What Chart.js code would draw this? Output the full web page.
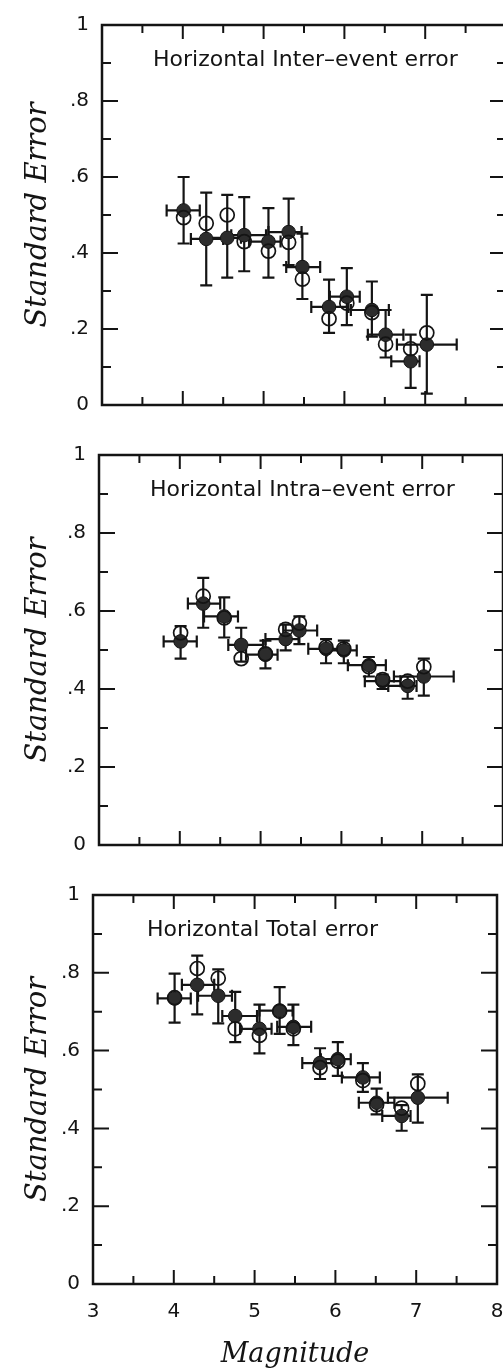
<!DOCTYPE html>
<html>
<head>
<meta charset="utf-8">
<script src="https://cdn.jsdelivr.net/npm/chart.js@4.4.1/dist/chart.umd.min.js"></script>
<style>
  html, body { margin: 0; padding: 0; background: #fff; overflow: hidden; width: 503px; height: 1370px; }
  canvas { position: absolute; left: 0; }
</style>
</head>
<body>
<canvas id="inter" width="520" height="430" style="top:0px"></canvas>
<canvas id="intra" width="520" height="440" style="top:430px"></canvas>
<canvas id="total" width="520" height="500" style="top:870px"></canvas>
<script>
// magnitude bins (shared by the three panels)
const magnitude = [4.01, 4.29, 4.55, 4.76, 5.06, 5.31, 5.48, 5.81, 6.03, 6.34, 6.51, 6.82, 7.02];
const magLow    = [3.80, 4.10, 4.30, 4.60, 4.82, 5.06, 5.28, 5.59, 5.82, 6.08, 6.29, 6.58, 6.65];
const magHigh   = [4.21, 4.50, 4.72, 5.03, 5.21, 5.47, 5.70, 6.05, 6.19, 6.55, 6.73, 6.93, 7.39];

// inter-event error
const interFilled = [0.512, 0.437, 0.44, 0.447, 0.43, 0.455, 0.363, 0.258, 0.285, 0.25, 0.185, 0.115, 0.159];
const interLow    = [0.425, 0.315, 0.335, 0.352, 0.335, 0.368, 0.279, 0.19, 0.21, 0.18, 0.125, 0.045, 0.03];
const interHigh   = [0.60, 0.559, 0.553, 0.547, 0.518, 0.543, 0.451, 0.33, 0.36, 0.325, 0.25, 0.185, 0.29];
const interOpen   = [0.493, 0.478, 0.50, 0.43, 0.405, 0.428, 0.331, 0.227, 0.268, 0.243, 0.16, 0.148, 0.19];

// intra-event error
const intraFilled = [0.522, 0.619, 0.586, 0.513, 0.488, 0.528, 0.55, 0.503, 0.499, 0.461, 0.42, 0.408, 0.432];
const intraLow    = [0.478, 0.557, 0.532, 0.47, 0.453, 0.499, 0.515, 0.466, 0.466, 0.432, 0.40, 0.375, 0.383];
const intraHigh   = [0.561, 0.685, 0.635, 0.557, 0.524, 0.565, 0.586, 0.528, 0.524, 0.482, 0.437, 0.432, 0.478];
const intraOpen   = [0.544, 0.638, 0.582, 0.478, 0.49, 0.553, 0.569, 0.507, 0.503, 0.457, 0.424, 0.42, 0.457];

// total error
const totalFilled = [0.734, 0.769, 0.741, 0.689, 0.656, 0.703, 0.661, 0.568, 0.578, 0.531, 0.466, 0.432, 0.479];
const totalLow    = [0.672, 0.693, 0.67, 0.622, 0.593, 0.643, 0.614, 0.527, 0.535, 0.494, 0.436, 0.394, 0.415];
const totalHigh   = [0.798, 0.844, 0.809, 0.751, 0.718, 0.763, 0.718, 0.606, 0.622, 0.568, 0.502, 0.46, 0.539];
const totalOpen   = [0.736, 0.811, 0.786, 0.656, 0.639, 0.701, 0.656, 0.556, 0.573, 0.523, 0.461, 0.452, 0.515];

const xTickLabels = ['3', '4', '5', '6', '7', '8'];
const yTickLabels = ['0', '.2', '.4', '.6', '.8', '1'];

const ink = '#141414';

function isMajorY(v) { return Math.abs(v * 5 - Math.round(v * 5)) < 1e-6; }
function isMajorX(v) { return Math.abs(v - Math.round(v)) < 1e-6; }

// frame and inward ticks on all four sides
const framePlugin = {
  id: 'frame',
  beforeDatasetsDraw(chart) {
    const { ctx, chartArea: a, scales: { x, y } } = chart;
    ctx.save();
    ctx.strokeStyle = ink;
    ctx.lineWidth = 2;
    ctx.beginPath();
    x.ticks.forEach(t => {
      const px = x.getPixelForValue(t.value);
      const len = isMajorX(t.value) ? 14 : 8;
      ctx.moveTo(px, a.bottom); ctx.lineTo(px, a.bottom - len);
      ctx.moveTo(px, a.top); ctx.lineTo(px, a.top + len);
    });
    y.ticks.forEach(t => {
      const py = y.getPixelForValue(t.value);
      const len = isMajorY(t.value) ? 16 : 9;
      ctx.moveTo(a.left, py); ctx.lineTo(a.left + len, py);
      ctx.moveTo(a.right, py); ctx.lineTo(a.right - len, py);
    });
    ctx.stroke();
    ctx.lineWidth = 2.5;
    ctx.strokeRect(a.left, a.top, a.right - a.left, a.bottom - a.top);
    ctx.restore();
  }
};

// x and y error bars of the filled symbols
const errorBarPlugin = {
  id: 'errorBars',
  beforeDatasetsDraw(chart) {
    const { ctx, scales: { x, y } } = chart;
    const cap = 6;
    ctx.save();
    ctx.strokeStyle = ink;
    ctx.lineWidth = 2.2;
    chart.data.datasets.forEach(ds => {
      if (!ds.yLow) return;
      ds.data.forEach((p, i) => {
        const px = x.getPixelForValue(p.x);
        const py = y.getPixelForValue(p.y);
        const yl = y.getPixelForValue(ds.yLow[i]);
        const yh = y.getPixelForValue(ds.yHigh[i]);
        const xl = x.getPixelForValue(ds.xLow[i]);
        const xh = x.getPixelForValue(ds.xHigh[i]);
        ctx.beginPath();
        ctx.moveTo(px, yl); ctx.lineTo(px, yh);
        ctx.moveTo(px - cap, yl); ctx.lineTo(px + cap, yl);
        ctx.moveTo(px - cap, yh); ctx.lineTo(px + cap, yh);
        ctx.moveTo(xl, py); ctx.lineTo(xh, py);
        ctx.moveTo(xl, py - cap); ctx.lineTo(xl, py + cap);
        ctx.moveTo(xh, py - cap); ctx.lineTo(xh, py + cap);
        ctx.stroke();
      });
    });
    ctx.restore();
  }
};

// panel caption inside the plot
const captionPlugin = {
  id: 'caption',
  afterDraw(chart, args, opts) {
    const { ctx, chartArea: a } = chart;
    ctx.save();
    ctx.fillStyle = ink;
    ctx.font = '22px "DejaVu Sans"';
    ctx.textBaseline = 'middle';
    ctx.fillText(opts.text, a.left + opts.dx, a.top + 35);
    ctx.restore();
  }
};

function makePanel(id, title, dx, filled, low, high, open, box, showX) {
  const canvas = document.getElementById(id);
  const W = canvas.width, H = canvas.height;
  return new Chart(canvas.getContext('2d'), {
    type: 'scatter',
    data: {
      datasets: [
        {
          label: 'open',
          data: magnitude.map((m, i) => ({ x: m, y: open[i] })),
          pointRadius: 7,
          pointBackgroundColor: 'rgba(0,0,0,0)',
          pointBorderColor: ink,
          pointBorderWidth: 1.7
        },
        {
          label: 'filled',
          data: magnitude.map((m, i) => ({ x: m, y: filled[i] })),
          yLow: low, yHigh: high, xLow: magLow, xHigh: magHigh,
          pointRadius: 6.8,
          pointBackgroundColor: '#2c2c2c',
          pointBorderColor: ink,
          pointBorderWidth: 1
        }
      ]
    },
    options: {
      responsive: false,
      animation: false,
      events: [],
      layout: { padding: { top: box.top, right: W - box.right, bottom: 0, left: 0 } },
      plugins: {
        legend: { display: false },
        tooltip: { enabled: false },
        caption: { text: title, dx: dx }
      },
      scales: {
        x: {
          type: 'linear', min: 3, max: 8,
          grid: { display: false, drawTicks: false },
          border: { display: false },
          ticks: {
            display: showX, stepSize: 0.5, padding: 16, color: ink,
            font: { family: 'DejaVu Sans', size: 20 },
            callback: v => isMajorX(v) ? xTickLabels[Math.round(v) - 3] : ''
          },
          title: {
            display: showX, text: 'Magnitude', color: ink,
            font: { family: 'DejaVu Serif', style: 'italic', size: 27, lineHeight: 1.1 },
            padding: { top: 0, bottom: 0 }
          },
          afterFit: s => { s.height = H - box.bottom; }
        },
        y: {
          type: 'linear', min: 0, max: 1,
          grid: { display: false, drawTicks: false },
          border: { display: false },
          ticks: {
            stepSize: 0.1, padding: 13, color: ink,
            font: { family: 'DejaVu Sans', size: 20 },
            callback: v => isMajorY(v) ? yTickLabels[Math.round(v * 5)] : ''
          },
          title: {
            display: true, text: 'Standard Error', color: ink,
            font: { family: 'DejaVu Serif', style: 'italic', size: 29, lineHeight: 1.2 },
            padding: { top: 21, bottom: 0 }
          },
          afterFit: s => { s.width = box.left; }
        }
      }
    },
    plugins: [framePlugin, errorBarPlugin, captionPlugin]
  });
}

makePanel('inter', 'Horizontal Inter\u2013event error', 51, interFilled, interLow, interHigh, interOpen,
  { left: 102, right: 506, top: 15, bottom: 416 }, false);
makePanel('intra', 'Horizontal Intra\u2013event error', 51, intraFilled, intraLow, intraHigh, intraOpen,
  { left: 99, right: 503, top: 18, bottom: 421 }, false);
makePanel('total', 'Horizontal Total error', 54, totalFilled, totalLow, totalHigh, totalOpen,
  { left: 93, right: 497, top: 13, bottom: 414 }, true);
</script>
</body>
</html>
